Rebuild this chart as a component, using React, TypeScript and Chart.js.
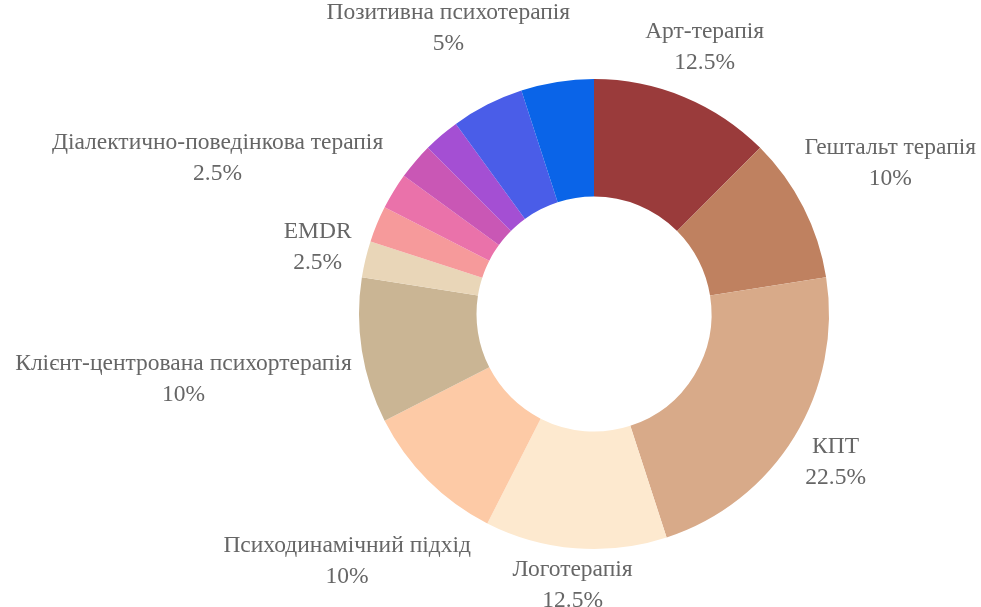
import React, { useEffect, useRef } from "react";
import { Chart, registerables } from "chart.js";

Chart.register(...registerables);

// Categories clockwise from the top (empty name = label not shown in the source picture)
const categories: string[] = [
  "Арт-терапія",
  "Гештальт терапія",
  "КПТ",
  "Логотерапія",
  "Психодинамічний підхід",
  "Клієнт-центрована психортерапія",
  "EMDR",
  "Діалектично-поведінкова терапія",
  "",
  "",
  "",
  "Позитивна психотерапія",
  "",
];

const shares: number[] = [12.5, 10, 22.5, 12.5, 10, 10, 2.5, 2.5, 2.5, 2.5, 2.5, 5, 5];

const sliceColors: string[] = [
  "#9a3b3b",
  "#bf8160",
  "#d8aa89",
  "#fde9cf",
  "#fdcaa6",
  "#cab594",
  "#e9d6b8",
  "#f69a9b",
  "#ea72aa",
  "#c957b5",
  "#a44fd3",
  "#4a5de8",
  "#0a64e8",
];

const LABEL_FONT = '23.5px "Liberation Serif", "DejaVu Serif", serif';
const LABEL_COLOR = "#666666";
const LINE_GAP = 31;
const LABEL_PAD = 11;
const LABEL_HALF_HEIGHT = 22;

const outsideLabels = {
  id: "outsideLabels",
  afterDraw(chart: any) {
    const ctx = chart.ctx;
    const meta = chart.getDatasetMeta(0);
    ctx.save();
    ctx.font = LABEL_FONT;
    ctx.fillStyle = LABEL_COLOR;
    ctx.textAlign = "center";
    ctx.textBaseline = "middle";
    meta.data.forEach((arc: any, i: number) => {
      const name = categories[i];
      if (!name) return;
      const p = arc.getProps(["x", "y", "startAngle", "endAngle", "outerRadius"], true);
      const mid = (p.startAngle + p.endAngle) / 2;
      const vx = Math.cos(mid);
      const vy = Math.sin(mid);
      const line2 = shares[i] + "%";
      const hw = Math.max(ctx.measureText(name).width, ctx.measureText(line2).width) / 2;
      const r = p.outerRadius + LABEL_PAD + hw * Math.abs(vx) + LABEL_HALF_HEIGHT * Math.abs(vy);
      const cx = p.x + vx * r;
      const cy = p.y + vy * r;
      ctx.fillText(name, cx, cy - LINE_GAP / 2);
      ctx.fillText(line2, cx, cy + LINE_GAP / 2);
    });
    ctx.restore();
  },
};

export default function App() {
  const ref = useRef<HTMLCanvasElement | null>(null);
  useEffect(() => {
    document.body.style.margin = "0";
    const chart = new Chart(ref.current as HTMLCanvasElement, {
      type: "doughnut",
      data: {
        labels: categories,
        datasets: [
          {
            data: shares,
            backgroundColor: sliceColors,
            borderWidth: 0,
            hoverOffset: 0,
          },
        ],
      },
      options: {
        responsive: false,
        animation: false,
        devicePixelRatio: 1,
        cutout: "50%",
        layout: { padding: { top: 79, bottom: 58, left: 359, right: 152 } },
        plugins: {
          legend: { display: false },
          tooltip: { enabled: false },
        },
      },
      plugins: [outsideLabels],
    });
    return () => chart.destroy();
  }, []);
  return (
    <div style={{ width: 981, height: 607, background: "#fff" }}>
      <canvas ref={ref} width={981} height={607} style={{ display: "block" }} />
    </div>
  );
}
